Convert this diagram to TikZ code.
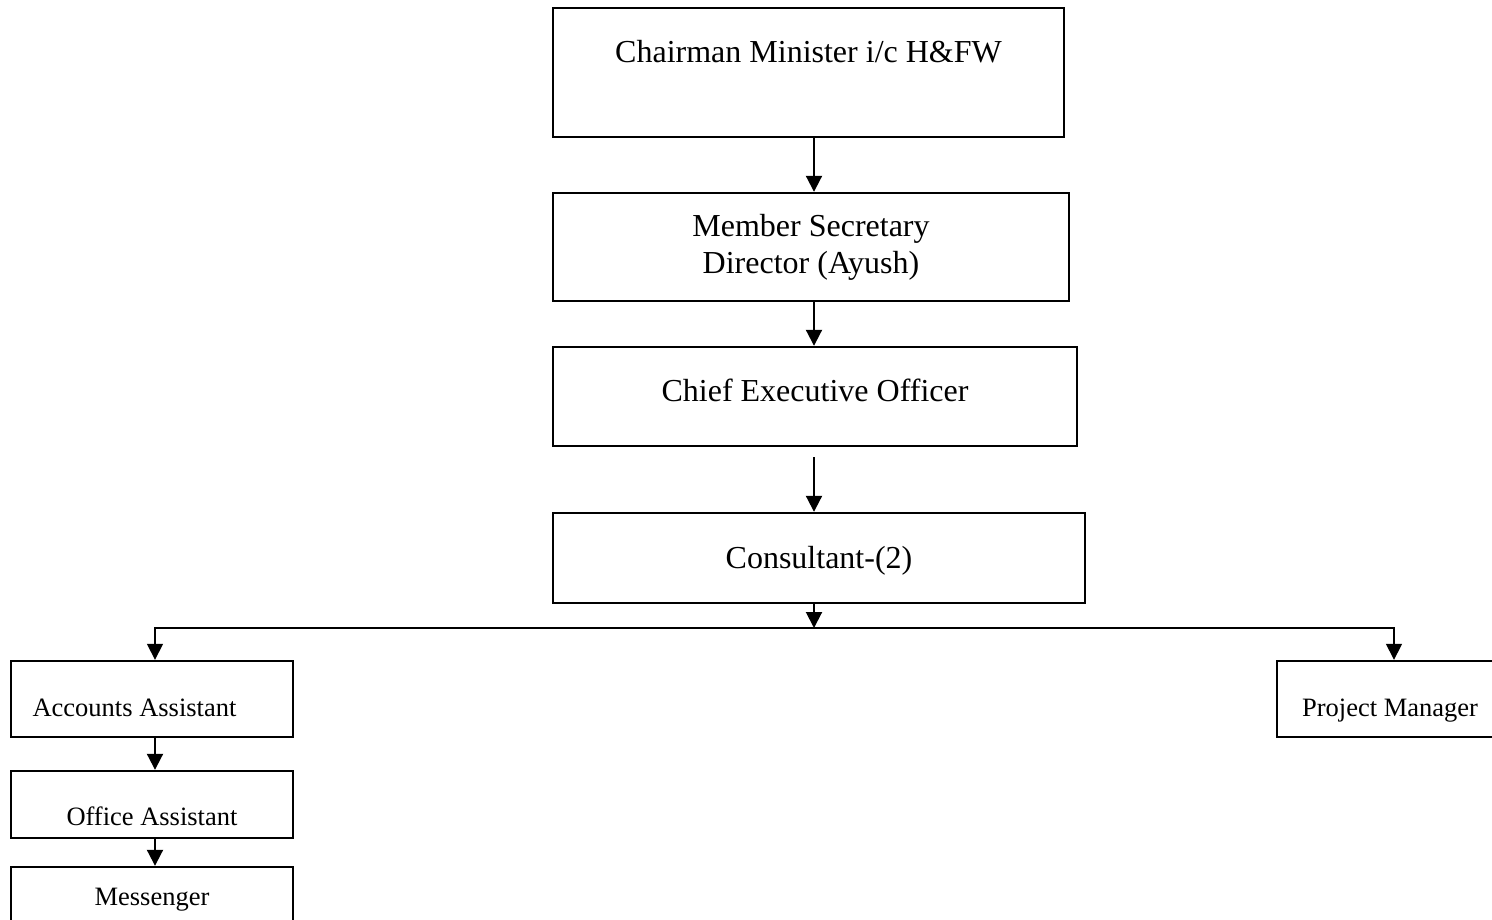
\documentclass[tikz,border=0pt]{standalone}
\usepackage{fontspec}
\setmainfont{Liberation Serif}
\usetikzlibrary{arrows.meta}
\begin{document}
\begin{tikzpicture}[x=1pt,y=-1pt,
  box/.style={draw, line width=2.4pt, inner sep=0pt, rectangle},
  big/.style={font=\fontsize{32}{37}\selectfont, anchor=base, inner sep=0pt},
  small/.style={font=\fontsize{26.5}{30}\selectfont, anchor=base, inner sep=0pt},
  conn/.style={line width=2pt, -{Triangle[width=16pt,length=16pt]}},
  busline/.style={line width=1.6pt, -{Triangle[width=16pt,length=16pt]}},
]
\useasboundingbox (0,0) rectangle (1492,919);
\clip (0,0) rectangle (1492,919);
% boxes
\node[box, minimum width=511pt, minimum height=129pt] (chair) at (808.5,72.5) {};
\node[box, minimum width=516pt, minimum height=108pt] (ms) at (811,247) {};
\node[box, minimum width=524pt, minimum height=99pt] (ceo) at (815,396.5) {};
\node[box, minimum width=532pt, minimum height=90pt] (cons) at (819,558) {};
\node[box, minimum width=282pt, minimum height=76pt] (acc) at (152,699) {};
\node[box, minimum width=282pt, minimum height=67pt] (off) at (152,804.5) {};
\node[box, minimum width=282pt, minimum height=93pt] (mes) at (152,913.5) {};
\node[box, minimum width=263pt, minimum height=76pt] (pm) at (1408.5,699) {};
% texts
\node[big] (tchair) at (808.5,62) {Chairman Minister i/c H\&FW};
\node[big] (tms1) at (811,236) {Member Secretary};
\node[big] (tms2) at (811,273) {Director (Ayush)};
\node[big] (tceo) at (815,401) {Chief Executive Officer};
\node[big] (tcons) at (819,568) {Consultant-(2)};
\node[small] (tacc) at (134.5,716) {Accounts Assistant};
\node[small] (toff) at (152,825) {Office Assistant};
\node[small] (tmes) at (152,905) {Messenger};
\node[small] (tpm) at (1390,716) {Project Manager};
% connectors
\coordinate (ax) at (814,0);
\coordinate (lx) at (155,0);
\coordinate (px) at (1394,0);
\coordinate (bus) at (814,628);
\draw[conn] (chair.south -| ax) -- (ms.north -| ax);
\draw[conn] (ms.south -| ax) -- (ceo.north -| ax);
\draw[conn] ([yshift=-10pt]ceo.south -| ax) -- (cons.north -| ax);
\draw[conn] (cons.south -| ax) -- (bus);
\draw[busline] (bus) -| (acc.north -| lx);
\draw[busline] (bus) -| (pm.north -| px);
\draw[conn] (acc.south -| lx) -- (off.north -| lx);
\draw[conn] (off.south -| lx) -- (mes.north -| lx);
\end{tikzpicture}
\end{document}
